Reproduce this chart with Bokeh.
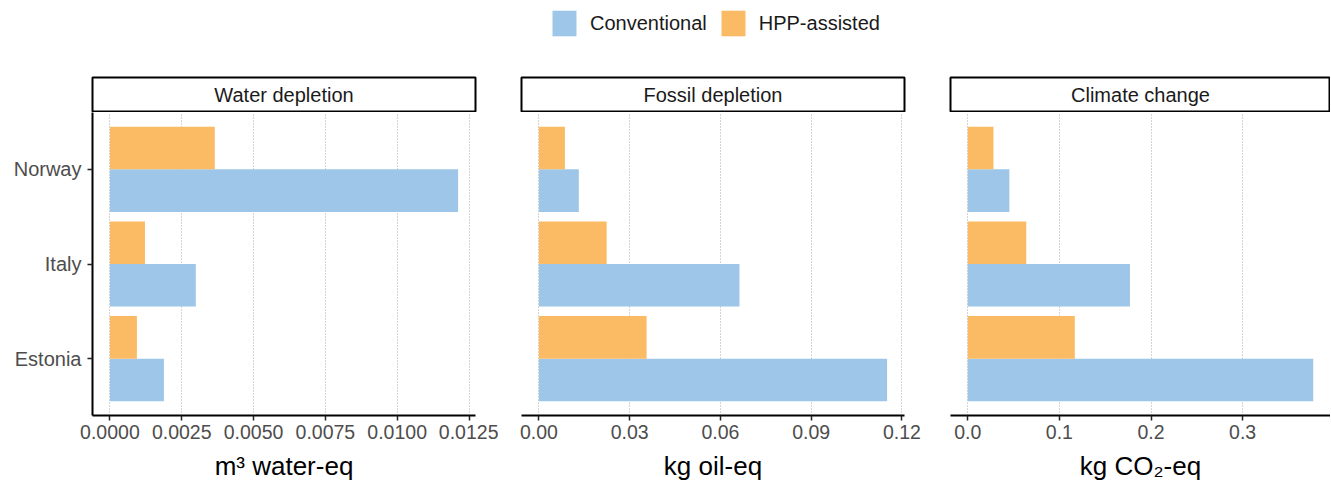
from bokeh.plotting import figure
from bokeh.models import (ColumnDataSource, FactorRange, Range1d, FixedTicker,
                          NumeralTickFormatter, Label, Legend, LegendItem)
from bokeh.layouts import row, column
from bokeh.transform import dodge
from bokeh.embed import file_html
from bokeh.resources import INLINE

# ---------------- data ----------------
countries = ["Norway", "Italy", "Estonia"]
series = ["Conventional", "HPP-assisted"]

water_conv = [0.01212, 0.00299, 0.00188]
water_hpp = [0.00365, 0.00122, 0.00094]
fossil_conv = [0.0132, 0.0663, 0.1151]
fossil_hpp = [0.0086, 0.0224, 0.0356]
climate_conv = [0.0454, 0.177, 0.377]
climate_hpp = [0.0280, 0.0638, 0.1168]

panel_titles = ["Water depletion", "Fossil depletion", "Climate change"]
axis_titles = ["m\u00b3 water-eq", "kg oil-eq", "kg CO\u2082-eq"]
water_ticks = [0.0, 0.0025, 0.0050, 0.0075, 0.0100, 0.0125]
fossil_ticks = [0.00, 0.03, 0.06, 0.09, 0.12]
climate_ticks = [0.0, 0.1, 0.2, 0.3]

# ---------------- style ----------------
BLUE = "#9DC6E8"
ORANGE = "#FBBA64"
FONT = "Liberation Sans"
H = 303          # frame height
STRIP_H = 35
BOTTOM = 70
LEG_H = 76


def make_panel(title, conv, hpp, ticks, fmt, xlabel, fw, left, right, show_y):
    vmax = max(conv + hpp)
    p = figure(frame_width=fw, frame_height=H,
               x_range=Range1d(-0.05 * vmax, 1.05 * vmax),
               y_range=FactorRange(factors=list(reversed(countries)),
                                   range_padding=0.2 / 3),
               output_backend="svg", toolbar_location=None,
               y_axis_location="left" if show_y else None,
               min_border_left=left, min_border_right=right,
               min_border_top=0, min_border_bottom=BOTTOM)
    p.outline_line_color = None
    p.background_fill_color = "white"
    p.border_fill_color = "white"

    src = ColumnDataSource(dict(country=countries, conv=conv, hpp=hpp))
    p.hbar(y=dodge("country", -0.225, range=p.y_range), left=0, right="conv",
           height=0.45, source=src, fill_color=BLUE, line_color=None)
    p.hbar(y=dodge("country", 0.225, range=p.y_range), left=0, right="hpp",
           height=0.45, source=src, fill_color=ORANGE, line_color=None)

    xa = p.xaxis[0]
    xa.ticker = FixedTicker(ticks=ticks, minor_ticks=[])
    xa.formatter = NumeralTickFormatter(format=fmt)
    xa.axis_label = xlabel
    xa.axis_label_text_font = FONT
    xa.axis_label_text_font_size = "26px"
    xa.axis_label_text_font_style = "normal"
    xa.axis_label_text_color = "black"
    xa.axis_label_standoff = 9
    xa.major_label_text_font = FONT
    xa.major_label_text_font_size = "19.5px"
    xa.major_label_text_color = "#4D4D4D"
    xa.major_label_standoff = 4
    xa.axis_line_color = "black"
    xa.axis_line_width = 2
    xa.major_tick_line_color = "#222222"
    xa.major_tick_line_width = 1.5
    xa.major_tick_out = 5
    xa.major_tick_in = 0
    xa.minor_tick_line_color = None

    if show_y:
        ya = p.yaxis[0]
        ya.major_label_text_font = FONT
        ya.major_label_text_font_size = "20px"
        ya.major_label_text_color = "#4D4D4D"
        ya.major_label_standoff = 6
        ya.axis_line_color = "black"
        ya.axis_line_width = 2
        ya.major_tick_line_color = "#222222"
        ya.major_tick_line_width = 1.5
        ya.major_tick_out = 5
        ya.major_tick_in = 0
        ya.minor_tick_line_color = None

    for g in p.xgrid:
        g.grid_line_color = "#A8A8A8"
        g.grid_line_dash = "1 2"
        g.grid_line_width = 1
    for g in p.ygrid:
        g.visible = False

    s = figure(frame_width=fw, frame_height=STRIP_H,
               x_range=Range1d(0, 1), y_range=Range1d(0, 1),
               x_axis_location=None, y_axis_location=None,
               output_backend="svg", toolbar_location=None,
               min_border_left=left, min_border_right=right,
               min_border_top=1, min_border_bottom=0)
    s.outline_line_color = "black"
    s.outline_line_width = 2
    s.border_fill_color = "white"
    for g in s.grid:
        g.visible = False
    s.add_layout(Label(x=0.5, y=0.5, text=title, text_align="center",
                       text_baseline="middle", text_font=FONT,
                       text_font_size="20px", text_color="#1A1A1A"))
    return column(s, p, spacing=0)


c1 = make_panel(panel_titles[0], water_conv, water_hpp, water_ticks, "0.0000",
                axis_titles[0], 383, 92, 23, True)
c2 = make_panel(panel_titles[1], fossil_conv, fossil_hpp, fossil_ticks, "0.00",
                axis_titles[1], 383, 23, 23, False)
c3 = make_panel(panel_titles[2], climate_conv, climate_hpp, climate_ticks, "0.0",
                axis_titles[2], 380, 23, 0, False)

TOTAL_W = 92 + 383 + 23 + 23 + 383 + 23 + 23 + 380

lg = figure(width=TOTAL_W, height=LEG_H, x_range=Range1d(0, 1), y_range=Range1d(0, 1),
            x_axis_location=None, y_axis_location=None,
            output_backend="svg", toolbar_location=None,
            min_border_left=0, min_border_right=0, min_border_top=0, min_border_bottom=0)
lg.outline_line_color = None
lg.border_fill_color = "white"
for g in lg.grid:
    g.visible = False
nan = float("nan")
r_conv = lg.hbar(y=[nan], right=[nan], height=0.5, fill_color=BLUE, line_color=None)
r_hpp = lg.hbar(y=[nan], right=[nan], height=0.5, fill_color=ORANGE, line_color=None)
legend = Legend(items=[LegendItem(label=series[0], renderers=[r_conv]),
                       LegendItem(label=series[1], renderers=[r_hpp])],
                orientation="horizontal", location=(549, 37),
                glyph_width=30, glyph_height=32, label_standoff=11, spacing=11,
                padding=0, margin=0, border_line_color=None,
                background_fill_alpha=0,
                label_text_font=FONT, label_text_font_size="20px",
                label_text_color="#1A1A1A")
lg.add_layout(legend, "center")

layout = column(lg, row(c1, c2, c3, spacing=0), spacing=0)

open("out.html", "w").write(file_html(layout, INLINE))
